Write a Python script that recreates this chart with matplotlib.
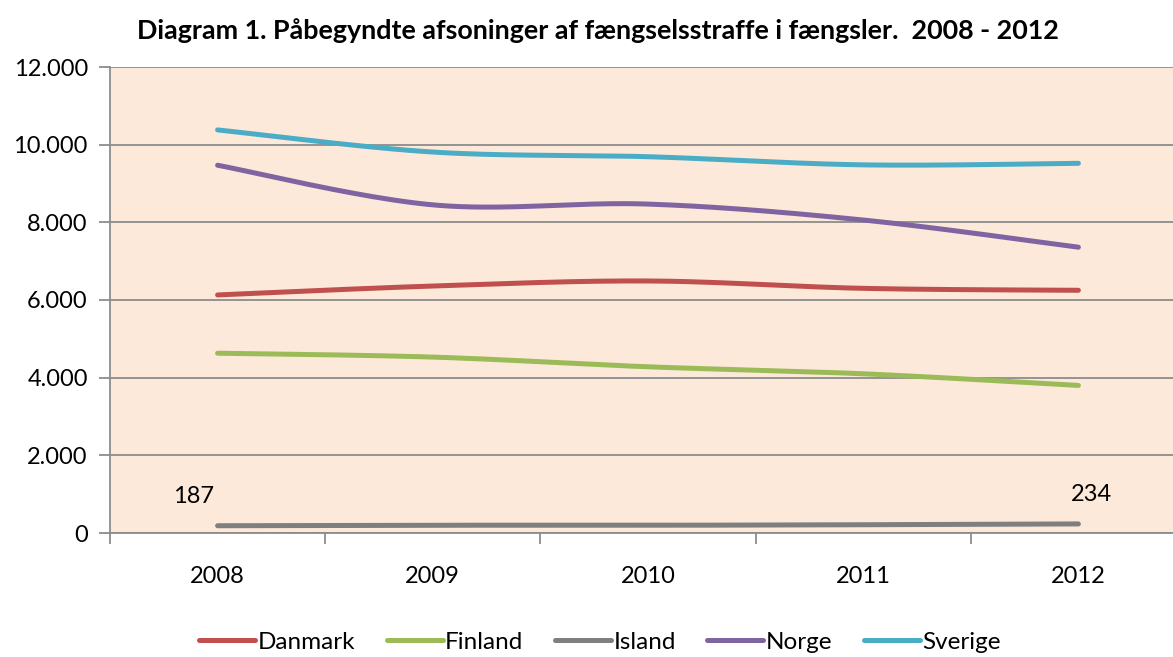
import numpy as np
import matplotlib.pyplot as plt
from matplotlib.ticker import FuncFormatter, FixedLocator

plt.rcParams['font.family'] = ['Lato', 'DejaVu Sans']

years = ['2008', '2009', '2010', '2011', '2012']
danmark = [6130, 6360, 6490, 6300, 6250]
finland = [4630, 4530, 4280, 4100, 3800]
island = [187, 200, 199, 213, 234]
norge = [9470, 8450, 8470, 8060, 7360]
sverige = [10380, 9810, 9690, 9480, 9520]

series = [('Danmark', danmark, '#C0504D'),
          ('Finland', finland, '#9BBB59'),
          ('Island', island, '#7F7F7F'),
          ('Norge', norge, '#8064A2'),
          ('Sverige', sverige, '#4BACC6')]


def smooth(x, y, n=40):
    # excel-like bezier smoothing through the points
    x = np.asarray(x, float)
    y = np.asarray(y, float)
    px = np.concatenate([[x[0]], x, [x[-1]]])
    py = np.concatenate([[y[0]], y, [y[-1]]])
    xs, ys = [], []
    t = np.linspace(0, 1, n)
    for i in range(len(x) - 1):
        p0 = np.array([px[i + 1], py[i + 1]])
        p3 = np.array([px[i + 2], py[i + 2]])
        p1 = p0 + (p3 - np.array([px[i], py[i]])) / 6
        p2 = p3 - (np.array([px[i + 3], py[i + 3]]) - p0) / 6
        b = ((1 - t) ** 3)[:, None] * p0 + (3 * (1 - t) ** 2 * t)[:, None] * p1 \
            + (3 * (1 - t) * t ** 2)[:, None] * p2 + (t ** 3)[:, None] * p3
        xs.append(b[:, 0])
        ys.append(b[:, 1])
    return np.concatenate(xs), np.concatenate(ys)


fig = plt.figure(figsize=(11.73, 6.57), dpi=100)
ax = fig.add_axes([110 / 1173, 1 - 533 / 657, 1076 / 1173, 466 / 657])
ax.set_facecolor('#FDE9D9')

x = np.arange(len(years))
for name, vals, col in series:
    sx, sy = smooth(x, vals)
    ax.plot(sx, sy, color=col, lw=3.6, solid_capstyle='round', label=name, zorder=3)

ax.text(x[0] - 0.11, island[0] + 480, str(island[0]), ha='center', va='bottom', fontsize=17)
ax.text(x[-1] + 0.06, island[-1] + 480, str(island[-1]), ha='center', va='bottom', fontsize=17)

ax.set_xlim(-0.5, 4.5)
ax.set_ylim(0, 12000)
ax.set_yticks(np.arange(0, 12001, 2000))
ax.yaxis.set_major_formatter(FuncFormatter(lambda v, p: '{:,.0f}'.format(v).replace(',', '.')))
ax.grid(axis='y', color='#8C8C8C', lw=1.3, zorder=1)
ax.set_axisbelow(True)

ax.xaxis.set_major_locator(FixedLocator(np.arange(-0.5, 5, 1)))
ax.xaxis.set_minor_locator(FixedLocator(x))
ax.set_xticklabels([], minor=False)
ax.set_xticklabels(years, minor=True)
ax.tick_params(axis='x', which='major', length=8, color='#8C8C8C', width=1.3)
ax.tick_params(axis='x', which='minor', length=0, pad=24, labelsize=17)
ax.tick_params(axis='y', length=8, color='#8C8C8C', width=1.3, labelsize=17, pad=8)

for s in ['top', 'right']:
    ax.spines[s].set_visible(False)
for s in ['left', 'bottom']:
    ax.spines[s].set_color('#8C8C8C')
    ax.spines[s].set_linewidth(1.3)

fig.text(598 / 1173, 1 - 31 / 657,
         'Diagram 1. Påbegyndte afsoninger af fængselsstraffe i fængsler.  2008 - 2012',
         ha='center', va='center', fontsize=19.4, fontweight='bold')

fig.legend(loc='center', bbox_to_anchor=(600 / 1173, 1 - 642 / 657), ncol=5, frameon=False,
           fontsize=17.5, handlelength=2.3, handletextpad=0.1, columnspacing=1.3)

fig.savefig('out.png', dpi=100)
